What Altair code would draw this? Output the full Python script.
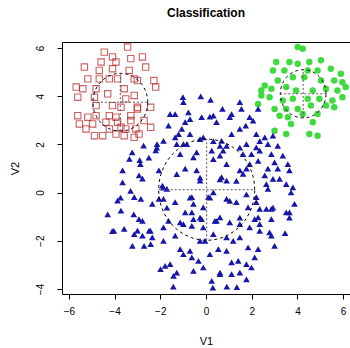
import altair as alt
import pandas as pd
import numpy as np

title_text = "Classification"
x_label = "V1"
y_label = "V2"
x_ticks = [-6, -4, -2, 0, 2, 4, 6]
y_ticks = [-4, -2, 0, 2, 4, 6]
x_domain = [-6.3, 6.3]
y_domain = [-4.21, 6.25]

blue_points = [
    (-1.01, 3.96), (-0.99, 3.75), (-0.23, 3.99), (0.20, 3.85), (0.72, 3.47), (1.12, 3.26),
    (1.04, 3.13), (1.48, 3.75), (1.55, 3.47), (-1.57, 3.26), (-1.35, 3.26), (-0.77, 3.33),
    (-0.70, 3.05), (-0.19, 3.13), (0.17, 3.15), (0.32, 3.19), (0.46, 2.92), (-0.91, 2.92),
    (-1.64, 2.78), (-1.06, 2.64), (-1.20, 2.43), (-1.35, 2.29), (-1.28, 2.01), (-0.99, 2.01),
    (-0.70, 2.43), (-0.26, 2.22), (-0.12, 2.29), (0.68, 2.15), (0.61, 1.94), (0.90, 1.94),
    (1.12, 2.43), (1.48, 2.64), (1.74, 2.78), (1.91, 3.13), (2.06, 2.99), (1.77, 2.01),
    (1.62, 1.60), (1.99, 1.60), (2.20, 1.88), (-0.41, 1.67), (0.25, 1.74), (0.61, 1.53),
    (-1.13, 1.60), (-1.86, 2.15), (-0.55, 1.46), (0.32, 1.39), (0.75, 1.74),
    (-2.73, 1.95), (-2.14, 2.01), (-3.23, 1.67), (-2.20, 1.75), (-3.35, 1.40), (-2.90, 1.35),
    (-2.50, 1.45),
    (2.28, 3.47), (2.20, 2.43), (2.57, 2.29), (2.93, 2.36), (2.71, 2.01), (3.14, 1.94),
    (2.35, 1.74), (2.86, 1.60), (3.00, 1.25), (2.28, 1.32), (3.58, 1.18), (3.36, 1.53),
    (-3.65, 0.92), (-2.93, 0.71), (-2.78, 0.58), (-3.65, 0.42), (-3.14, -0.19), (-2.85, -0.26),
    (-3.87, -0.33), (-3.72, -0.75), (-2.35, -0.47), (-2.93, -1.10), (-2.78, -1.17), (-3.58, -1.51),
    (-3.00, -1.58), (-3.14, -1.72), (-2.78, -1.79), (-2.49, -1.58), (-2.35, -1.86), (-3.22, -2.21),
    (-2.71, -2.21), (-2.42, -2.14), (-1.99, -3.18), (-2.06, 0.92), (-1.91, 0.29), (-2.06, -0.26),
    (-0.91, 0.99), (-0.41, 0.92), (0.68, 0.64), (0.90, 0.50), (1.48, 0.92), (1.77, 0.99),
    (1.62, 0.78), (-0.26, 0.50), (-1.71, 0.15), (-1.86, -0.26), (-1.35, -0.40), (-0.62, -0.19),
    (-0.55, -0.47), (-0.12, -0.61), (0.10, -0.19), (0.32, 0.01), (0.90, -0.26), (1.33, -0.40),
    (1.84, -0.61), (2.20, -0.40), (-0.91, -0.82), (-0.62, -0.82), (-0.55, -1.10), (-0.19, -1.10),
    (0.39, -1.17), (0.61, -1.03), (-1.86, -1.44), (-1.64, -1.17), (-1.13, -1.24), (-0.62, -1.38),
    (-0.12, -1.44), (1.04, -1.24), (1.48, -1.31), (1.91, -1.44), (2.13, -1.10), (-1.35, -1.79),
    (-0.26, -2.00), (-0.04, -2.00), (0.90, -1.86), (1.48, -1.86), (0.32, -1.72), (-1.13, -2.35),
    (-0.62, -2.69), (-0.33, -2.83), (0.54, -2.35), (0.90, -2.42), (1.12, -2.90), (1.41, -2.83),
    (1.84, -2.28), (2.13, -2.69), (-1.79, -3.04), (-1.28, -3.32), (-0.12, -3.11), (0.61, -3.32),
    (1.12, -3.39), (1.48, -3.32), (1.99, -3.11), (1.77, -3.60), (0.25, -3.67), (-1.42, -3.46),
    (-0.70, -2.42),
    (2.71, 0.99), (3.14, 0.99), (3.65, 0.92), (2.57, 0.71), (2.93, 0.57), (3.22, 0.57),
    (2.71, 0.15), (3.80, 0.22), (3.72, 0.01), (2.20, -0.19), (2.35, -0.68), (2.64, -0.68),
    (2.86, -0.68), (3.87, -0.47), (3.51, -0.82), (3.65, -0.82), (2.28, -1.03), (2.86, -1.10),
    (2.35, -1.31), (2.78, -1.65), (2.86, -1.79), (3.46, -1.68), (3.00, -2.21), (2.28, -2.35),
    (-1.43, -3.90), (0.30, -3.95), (0.91, -3.90), (1.35, -3.92), (-4.30, -0.90), (-4.10, -1.60),
    (-0.26, 0.62), (0.61, 0.55), (1.33, 0.49), (-0.70, -0.21), (0.17, -0.21), (1.04, -0.34),
    (1.77, -0.07), (-0.26, -1.04), (0.46, -1.18), (1.48, -1.04), (-0.99, -1.31), (-1.71, -0.62),
    (-1.86, 0.21), (-1.28, 0.77), (0.90, 1.18), (1.91, 1.18), (2.64, 0.35), (2.93, -0.62),
    (2.35, -1.59), (1.19, -2.00), (0.17, -2.56), (-0.99, -2.56), (-1.86, -2.00), (-2.43, -1.59),
    (-3.16, -0.90), (-3.30, 0.07), (-2.87, 1.18), (-2.15, 1.87), (-0.84, 2.01), (0.32, 2.14),
    (1.48, 1.87), (2.35, 2.14), (3.51, 0.35), (3.65, -1.04), (1.77, -2.97), (0.61, -3.39),
    (-0.55, -3.25), (-1.57, -2.97), (-3.74, -0.21), (-4.03, -1.59),
]

red_points = [
    (-3.43, 6.04), (-4.45, 5.83), (-4.09, 5.63), (-3.29, 5.56), (-2.78, 5.63), (-4.59, 5.42),
    (-3.94, 5.42), (-5.32, 5.21), (-4.67, 5.07), (-4.09, 5.14), (-3.36, 5.07), (-2.64, 5.21),
    (-5.17, 4.72), (-4.67, 4.72), (-4.23, 4.72), (-3.87, 4.72), (-3.14, 4.72), (-5.68, 4.38),
    (-5.39, 4.31), (-4.81, 4.31), (-3.58, 4.31), (-3.00, 4.65), (-2.28, 4.65), (-2.20, 4.38),
    (-4.88, 3.96), (-4.30, 4.10), (-3.14, 4.03), (-4.81, 3.61), (-4.09, 3.61), (-3.72, 3.54),
    (-3.00, 3.54), (-2.42, 3.54), (-5.61, 3.19), (-5.17, 3.13), (-4.81, 3.19), (-4.23, 3.19),
    (-3.94, 3.13), (-3.29, 3.19), (-3.00, 3.47), (-5.54, 2.85), (-4.96, 2.85), (-4.38, 2.92),
    (-3.87, 2.92), (-3.29, 2.99), (-2.71, 2.99), (-5.25, 2.64), (-4.23, 2.64), (-3.72, 2.71),
    (-3.51, 2.64), (-3.07, 2.64), (-2.42, 2.71), (-4.88, 2.36), (-4.52, 2.36), (-3.94, 2.43),
    (-3.58, 2.36), (-3.14, 2.29), (-2.93, 2.43), (-5.61, 3.96), (-3.51, 3.89),
]

green_points = [
    (4.01, 6.04), (4.23, 5.97), (3.07, 5.42), (3.65, 5.42), (4.01, 5.35), (4.52, 5.42),
    (5.03, 5.49), (2.93, 5.07), (3.43, 5.07), (4.45, 5.07), (4.88, 5.07), (5.46, 5.14),
    (5.90, 4.93), (3.14, 4.65), (3.80, 4.79), (4.30, 4.79), (5.03, 4.65), (5.61, 4.65),
    (5.97, 4.58), (2.57, 4.44), (2.86, 4.31), (3.51, 4.38), (3.94, 4.24), (4.67, 4.24),
    (5.25, 4.31), (5.75, 4.24), (2.42, 4.03), (2.78, 3.96), (3.36, 3.82), (3.80, 3.89),
    (4.45, 3.89), (4.96, 3.89), (5.53, 3.82), (5.97, 3.96), (3.00, 3.47), (3.51, 3.47),
    (4.01, 3.47), (4.59, 3.61), (5.25, 3.61), (5.61, 3.54), (3.22, 3.19), (3.58, 3.13),
    (4.23, 3.26), (4.88, 3.26), (3.72, 2.85), (4.67, 2.92), (3.00, 2.57), (3.51, 2.43),
    (4.52, 2.43), (4.88, 2.36), (2.42, 4.24), (2.28, 3.68), (6.11, 4.38),
]

# fitted class circles: centre (V1, V2) and radius
center_v1 = [0.03, -3.75, 4.25]
center_v2 = [0.12, 3.75, 4.10]
radius = [2.1, 1.2, 1.0]

blue_df = pd.DataFrame(blue_points, columns=["V1", "V2"])
red_df = pd.DataFrame(red_points, columns=["V1", "V2"])
green_df = pd.DataFrame(green_points, columns=["V1", "V2"])

ang = np.linspace(0, 2 * np.pi, 97)
rows = []
for g, (cx, cy, r) in enumerate(zip(center_v1, center_v2, radius)):
    for i, a in enumerate(ang):
        rows.append({"g": g, "i": i, "V1": cx + r * np.cos(a), "V2": cy + r * np.sin(a)})
circle_df = pd.DataFrame(rows)

cross_rows = []
for cx, cy, r in zip(center_v1, center_v2, radius):
    cross_rows.append({"a1": cx - r, "a2": cx + r, "b1": cy, "b2": cy})
    cross_rows.append({"a1": cx, "a2": cx, "b1": cy - r, "b2": cy + r})
cross_df = pd.DataFrame(cross_rows)

FONT = "Liberation Sans"

xscale = alt.Scale(domain=x_domain, nice=False, zero=False)
yscale = alt.Scale(domain=y_domain, nice=False, zero=False)
xaxis = alt.Axis(values=x_ticks, title=x_label, grid=False, domain=False, tickSize=5,
                 tickColor="black", labelColor="black", labelFontSize=10, labelFont=FONT,
                 labelPadding=7, labelFlush=False, labelOverlap=False,
                 titleFont=FONT, titleFontSize=11, titleFontWeight="normal", titleColor="black",
                 titleY=47, titleBaseline="middle")
yaxis = alt.Axis(values=y_ticks, title=y_label, grid=False, domain=False, tickSize=5,
                 tickColor="black", labelColor="black", labelFontSize=10, labelFont=FONT,
                 labelAngle=-90, labelAlign="center", labelBaseline="bottom",
                 labelPadding=12, labelFlush=False, labelOverlap=False,
                 titleFont=FONT, titleFontSize=11, titleFontWeight="normal", titleColor="black",
                 titleX=-47, titleBaseline="middle")


def X(field):
    return alt.X(field, type="quantitative", scale=xscale, axis=xaxis)


def Y(field):
    return alt.Y(field, type="quantitative", scale=yscale, axis=yaxis)


red_layer = alt.Chart(red_df).mark_point(shape="square", filled=False, size=40,
                                         color="#B82020", strokeWidth=1.1).encode(x=X("V1"), y=Y("V2"))
green_layer = alt.Chart(green_df).mark_point(shape="circle", filled=True, size=42, opacity=1,
                                             color="#40DA40").encode(x=X("V1"), y=Y("V2"))
blue_layer = alt.Chart(blue_df).mark_point(shape="triangle-up", filled=True, size=44, opacity=1,
                                           color="#1616A8").encode(x=X("V1"), y=Y("V2"))
circle_layer = alt.Chart(circle_df).mark_line(color="black", strokeWidth=1, strokeDash=[3, 3]).encode(
    x=X("V1"), y=Y("V2"), detail="g:N", order="i:Q")
cross_layer = alt.Chart(cross_df).mark_rule(color="#555555", strokeWidth=1, strokeDash=[2, 2]).encode(
    x=X("a1"), x2="a2", y=Y("b1"), y2="b2")

chart = alt.layer(red_layer, green_layer, blue_layer, circle_layer, cross_layer).properties(
    width=288, height=252,
    title=alt.TitleParams(title_text, font=FONT, fontSize=12, fontWeight="bold", color="black",
                          anchor="middle", offset=22),
    autosize=alt.AutoSizeParams(type="none"),
    padding={"left": 62, "top": 42, "right": 0, "bottom": 54},
).configure(background="white").configure_view(stroke="black", strokeWidth=1)

chart.save("out.html", embed_options={"renderer": "svg", "actions": False})
